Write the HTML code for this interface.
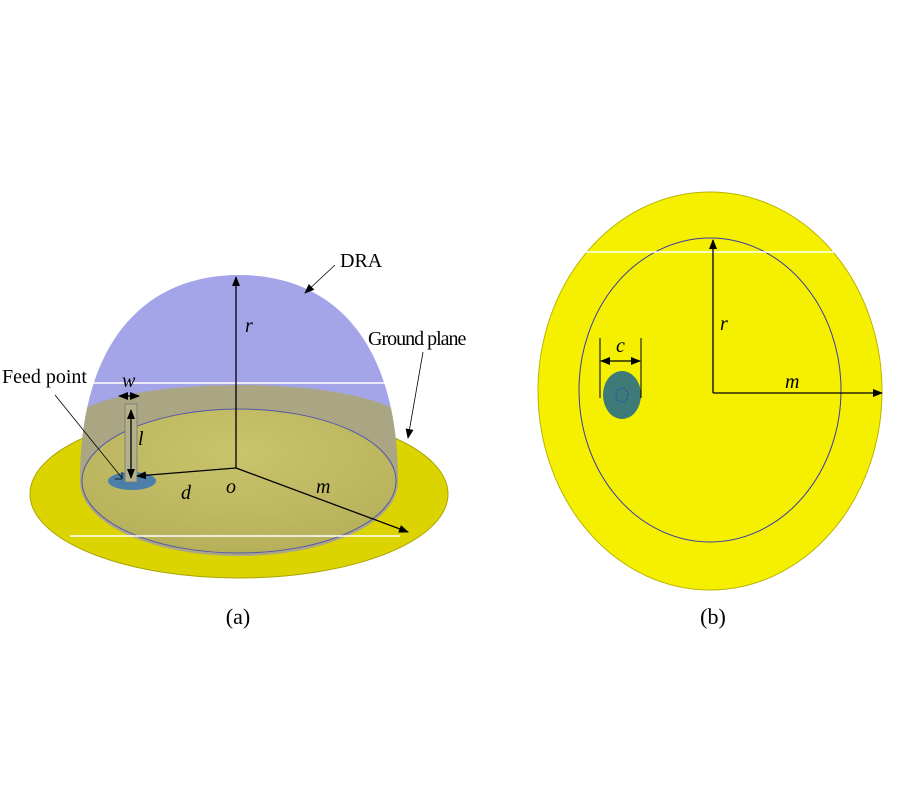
<!DOCTYPE html>
<html><head><meta charset="utf-8"><style>
html,body{margin:0;padding:0;background:#fff;}
svg{display:block;}
text{font-family:"Liberation Serif",serif;fill:#000;}
</style></head><body>
<svg width="900" height="800" viewBox="0 0 900 800">
<defs>
<marker id="ah" markerWidth="10" markerHeight="8" refX="9" refY="4" orient="auto" markerUnits="userSpaceOnUse"><path d="M0,0 L10,4 L0,8 z" fill="#000"/></marker>
<marker id="at" markerWidth="10" markerHeight="8" refX="1" refY="4" orient="auto" markerUnits="userSpaceOnUse"><path d="M10,0 L0,4 L10,8 z" fill="#000"/></marker>
<radialGradient id="gin" cx="0.5" cy="0.3" r="0.7"><stop offset="0" stop-color="#c9c46c"/><stop offset="1" stop-color="#b6b05a"/></radialGradient>
<clipPath id="dome"><path d="M80,482 C80,335 150,275 239,275 C328,275 398,335 398,482 A159,74 0 0 1 80,482 Z"/></clipPath>
</defs>
<!-- (a) -->
<ellipse cx="239" cy="494" rx="209" ry="84" fill="#dcd400" stroke="#aaa400" stroke-width="1"/>
<path d="M80,482 C80,335 150,275 239,275 C328,275 398,335 398,482 A159,74 0 0 1 80,482 Z" fill="#a4a4e8"/>
<g clip-path="url(#dome)">
<path d="M70,425 A169,40 0 0 1 408,425 L408,600 L70,600 Z" fill="#aaa684"/>
</g>
<ellipse cx="239" cy="481" rx="157" ry="72" fill="url(#gin)" stroke="#5555aa" stroke-width="1"/>
<line x1="90" y1="383" x2="385" y2="383" stroke="#fff" stroke-width="1.5"/>
<line x1="70" y1="536" x2="400" y2="536" stroke="#fff" stroke-width="1.5"/>
<ellipse cx="132" cy="481" rx="24" ry="9" fill="#4c7fa8"/>
<rect x="125" y="404" width="12" height="78" fill="#b4b08a" stroke="#777" stroke-width="0.8"/>
<line x1="236" y1="468" x2="236" y2="277" stroke="#000" stroke-width="1.3" marker-end="url(#ah)"/>
<line x1="236" y1="468" x2="137" y2="476" stroke="#000" stroke-width="1.3" marker-end="url(#ah)"/>
<line x1="236" y1="468" x2="408" y2="532" stroke="#000" stroke-width="1.3" marker-end="url(#ah)"/>
<line x1="131" y1="410" x2="131" y2="478" stroke="#000" stroke-width="1.3" marker-end="url(#ah)" marker-start="url(#at)"/>
<line x1="119" y1="396" x2="139" y2="396" stroke="#000" stroke-width="1.3" marker-end="url(#ah)" marker-start="url(#at)"/>
<line x1="55" y1="395" x2="122" y2="478" stroke="#000" stroke-width="0.8"/>
<path d="M115,479 L122,479 L122,472" fill="none" stroke="#000" stroke-width="0.8"/>
<line x1="335" y1="265" x2="305" y2="293" stroke="#000" stroke-width="0.8" marker-end="url(#ah)"/>
<line x1="423" y1="352" x2="408" y2="438" stroke="#000" stroke-width="0.8" marker-end="url(#ah)"/>
<text x="340" y="267" font-size="20">DRA</text>
<text x="368" y="345" font-size="20" letter-spacing="-1">Ground plane</text>
<text x="2" y="383" font-size="20">Feed point</text>
<text x="122" y="387" font-size="20" font-style="italic">w</text>
<text x="138" y="445" font-size="20" font-style="italic">l</text>
<text x="245" y="332" font-size="20" font-style="italic">r</text>
<text x="181" y="499" font-size="20" font-style="italic">d</text>
<text x="226" y="493" font-size="20" font-style="italic">o</text>
<text x="316" y="493" font-size="20" font-style="italic">m</text>
<text x="238" y="624" font-size="22" text-anchor="middle">(a)</text>
<!-- (b) -->
<ellipse cx="710" cy="391" rx="172" ry="199" fill="#f4f000" stroke="#bbb400" stroke-width="1"/>
<ellipse cx="710" cy="390" rx="131" ry="152" fill="#f4f000" stroke="#3a3aaa" stroke-width="1"/>
<line x1="585" y1="252" x2="836" y2="252" stroke="#fff" stroke-width="1.5"/>
<ellipse cx="622" cy="395" rx="19" ry="24" fill="#3d7a78"/>
<ellipse cx="622" cy="395" rx="6" ry="7" fill="none" stroke="#3333bb" stroke-width="0.8" stroke-dasharray="2,1.5"/>
<line x1="600" y1="338" x2="600" y2="398" stroke="#000" stroke-width="1"/>
<line x1="641" y1="338" x2="641" y2="398" stroke="#000" stroke-width="1"/>
<line x1="601" y1="361" x2="640" y2="361" stroke="#000" stroke-width="1.3" marker-end="url(#ah)" marker-start="url(#at)"/>
<line x1="713" y1="393" x2="713" y2="240" stroke="#000" stroke-width="1.3" marker-end="url(#ah)"/>
<line x1="713" y1="393" x2="882" y2="393" stroke="#000" stroke-width="1.3" marker-end="url(#ah)"/>
<text x="616" y="352" font-size="20" font-style="italic">c</text>
<text x="720" y="330" font-size="20" font-style="italic">r</text>
<text x="785" y="388" font-size="20" font-style="italic">m</text>
<text x="713" y="624" font-size="22" text-anchor="middle">(b)</text>
</svg>
</body></html>
